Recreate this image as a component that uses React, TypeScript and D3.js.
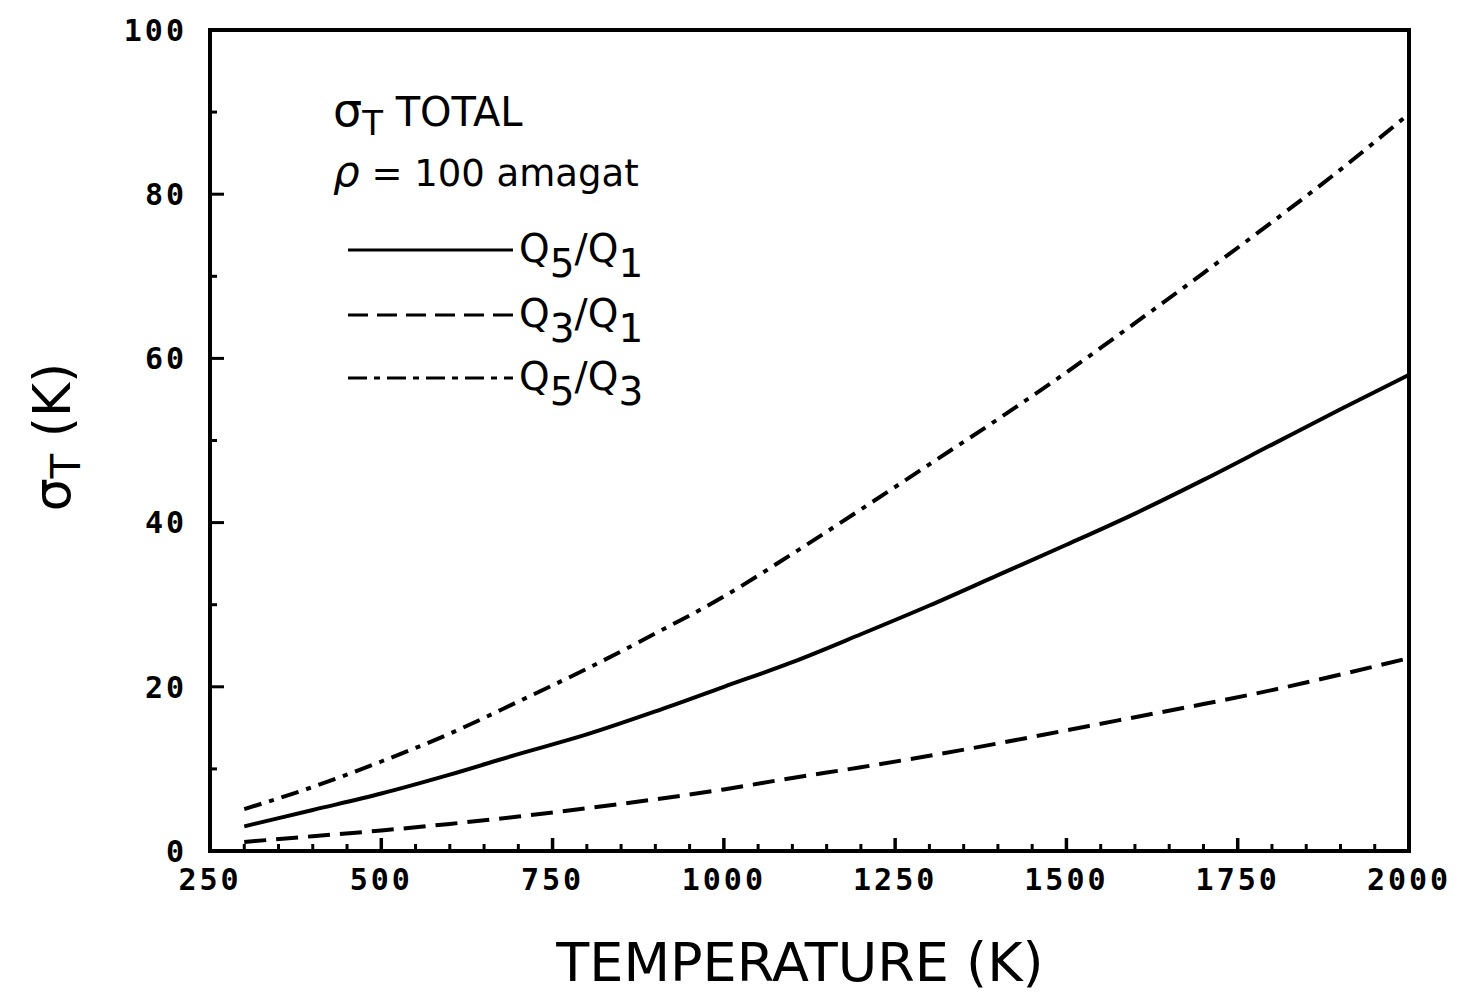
import React from "react";
import * as d3 from "d3";

const temps = [300, 400, 500, 600, 700, 800, 900, 1000, 1100, 1200, 1300, 1400, 1500, 1600, 1700, 1800, 1900, 2000];
const q5q1 = [3.0, 5.0, 7.0, 9.3, 11.8, 14.2, 17.0, 20.0, 23.0, 26.4, 29.9, 33.6, 37.3, 41.1, 45.2, 49.5, 53.8, 58.0];
const q3q1 = [1.1, 1.8, 2.5, 3.3, 4.2, 5.2, 6.3, 7.5, 8.9, 10.2, 11.6, 13.1, 14.7, 16.3, 17.9, 19.6, 21.5, 23.5];
const q5q3 = [5.1, 7.8, 10.9, 14.3, 18.2, 22.2, 26.5, 31.0, 36.2, 41.6, 47.1, 52.6, 58.3, 64.3, 70.4, 76.6, 83.0, 89.8];

const xTickLabels = [250, 500, 750, 1000, 1250, 1500, 1750, 2000];
const yTickLabels = [0, 20, 40, 60, 80, 100];

const W = 1461, H = 995;
const L = 210, R = 1409, T = 30, B = 851;

export default function App() {
  const x = d3.scaleLinear().domain([250, 2000]).range([L, R]);
  const y = d3.scaleLinear().domain([0, 100]).range([B, T]);
  const line = d3.line<number>()
    .x((_, i) => x(temps[i]))
    .y((d) => y(d))
    .curve(d3.curveMonotoneX);

  const xMinor = d3.range(300, 2000, 50);
  const yMinor = d3.range(10, 100, 10);
  const tickFont = "'DejaVu Sans Mono', monospace";
  const txtFont = "'DejaVu Sans', sans-serif";

  const series = [
    { v: q5q1, dash: "none" },
    { v: q3q1, dash: "22,10" },
    { v: q5q3, dash: "18,8,5,8" },
  ];

  const legend = [
    { dash: "none", a: "5", b: "1" },
    { dash: "20,9", a: "3", b: "1" },
    { dash: "19,7,6,7", a: "5", b: "3" },
  ];
  const legY = [250, 315, 378];

  return (
    <svg width={W} height={H} style={{ position: "absolute", left: 0, top: 0, background: "#fff" }}>
      <rect x={L} y={T} width={R - L} height={B - T} fill="none" stroke="#000" strokeWidth={4} />
      {xMinor.map((t) => {
        const major = t % 250 === 0;
        return <line key={"xt" + t} x1={x(t)} x2={x(t)} y1={B} y2={B - (major ? 13 : 7)} stroke="#000" strokeWidth={major ? 3.5 : 3} />;
      })}
      {yMinor.map((t) => {
        const major = t % 20 === 0;
        return <line key={"yt" + t} x1={L} x2={L + (major ? 14 : 7)} y1={y(t)} y2={y(t)} stroke="#000" strokeWidth={3} />;
      })}
      {xTickLabels.map((t) => (
        <text key={"xl" + t} x={x(t)} y={890} textAnchor="middle" fontFamily={tickFont} fontWeight="bold" fontSize={30} letterSpacing={3}>{t}</text>
      ))}
      {yTickLabels.map((t) => (
        <text key={"yl" + t} x={187} y={y(t)} dy="0.36em" textAnchor="end" fontFamily={tickFont} fontWeight="bold" fontSize={30} letterSpacing={3}>{t}</text>
      ))}
      {series.map((s, i) => (
        <path key={"s" + i} d={line(s.v) || ""} fill="none" stroke="#000" strokeWidth={4} strokeDasharray={s.dash} strokeLinecap="butt" />
      ))}
      <text x={800} y={981} textAnchor="middle" fontFamily={txtFont} fontSize={54}>TEMPERATURE (K)</text>
      <text transform="translate(70,437) rotate(-90)" textAnchor="middle" fontFamily={txtFont} fontSize={52}>
        σ<tspan fontSize={40} dy={10}>T</tspan><tspan dy={-10}> (K)</tspan>
      </text>
      <text x={333} y={126} fontFamily={txtFont} fontSize={40}>
        <tspan fontSize={46}>σ</tspan><tspan fontSize={34} dy={9}>T</tspan><tspan dy={-9}> TOTAL</tspan>
      </text>
      <text x={333} y={186} fontFamily={txtFont} fontSize={37}>
        <tspan fontStyle="italic" fontSize={42}>ρ</tspan> = 100 amagat
      </text>
      {legend.map((l, i) => (
        <g key={"lg" + i}>
          <line x1={348} x2={513} y1={legY[i]} y2={legY[i]} stroke="#000" strokeWidth={3} strokeDasharray={l.dash} />
          <text x={519} y={legY[i] + 12} fontFamily={txtFont} fontSize={39}>
            Q<tspan dy={15}>{l.a}</tspan><tspan dy={-15}>/Q</tspan><tspan dy={15}>{l.b}</tspan>
          </text>
        </g>
      ))}
    </svg>
  );
}
